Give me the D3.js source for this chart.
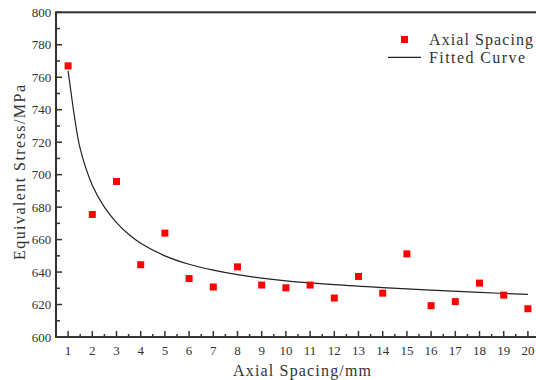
<!DOCTYPE html>
<html>
<head>
<meta charset="utf-8">
<script src="https://cdn.jsdelivr.net/npm/d3@7"></script>
<style>
    body { margin: 0; background: #fff; }
    .tick-label { font-family: "Liberation Serif", serif; font-size: 13px; fill: #333; }
    .annotation { font-family: "Liberation Serif", serif; font-size: 16px; fill: #333; }
</style>
</head>
<body>
<svg class="chart" width="536" height="380"></svg>
<script>
var spacing = [1, 2, 3, 4, 5, 6, 7, 8, 9, 10, 11, 12, 13, 14, 15, 16, 17, 18, 19, 20];
var stress = [767, 675.5, 695.8, 644.5, 664, 636, 630.8, 643.2, 632, 630.3, 632, 624, 637.3, 627, 651.2, 619.3, 621.8, 633.2, 625.8, 617.4];

var fitX = [1, 1.1, 1.25, 1.5, 2, 2.5, 3, 3.5, 4, 5, 6, 7, 8, 9, 10, 12, 14, 16, 18, 20];
var fitY = [764, 753, 737, 716, 693.5, 680, 670.5, 663.3, 657.8, 650, 644.8, 641.2, 638.4, 636.3, 634.6, 632.2, 630.4, 628.9, 627.5, 626.2];

var xTicks = [1, 2, 3, 4, 5, 6, 7, 8, 9, 10, 11, 12, 13, 14, 15, 16, 17, 18, 19, 20];
var yTicks = [600, 620, 640, 660, 680, 700, 720, 740, 760, 780, 800];

(function () {
    var svg = d3.select(".chart"),
        margin = {
            top: 12.3,
            right: -4,
            bottom: 43,
            left: 56
        },
        width = +svg.attr("width") - margin.left - margin.right,
        height = +svg.attr("height") - margin.top - margin.bottom,
        g = svg.append("g").attr("transform", "translate(" + margin.left + "," + margin.top + ")");

    var x = d3.scaleLinear()
        .range([0, width])
        .domain([0.5, 20.5]);

    var y = d3.scaleLinear()
        .range([height, 0])
        .domain([600, 800]);

    var axisColor = "#333";

    // minor ticks first, majors on top
    var xMinor = xTicks.slice(0, -1).map(function (d) { return d + 0.5; });
    var yMinor = yTicks.slice(0, -1).map(function (d) { return d + 10; });

    g.selectAll(".xminor")
        .data(xMinor)
        .enter()
        .append("line")
        .attr("x1", function (d) { return x(d); })
        .attr("x2", function (d) { return x(d); })
        .attr("y1", height)
        .attr("y2", height - 3)
        .attr("stroke", axisColor)
        .attr("stroke-width", 1.5);

    g.selectAll(".xmajor")
        .data(xTicks)
        .enter()
        .append("line")
        .attr("x1", function (d) { return x(d); })
        .attr("x2", function (d) { return x(d); })
        .attr("y1", height)
        .attr("y2", height - 6)
        .attr("stroke", axisColor)
        .attr("stroke-width", 1.5);

    g.selectAll(".yminor")
        .data(yMinor)
        .enter()
        .append("line")
        .attr("y1", function (d) { return y(d); })
        .attr("y2", function (d) { return y(d); })
        .attr("x1", 0)
        .attr("x2", 4)
        .attr("stroke", axisColor)
        .attr("stroke-width", 1.5);

    g.selectAll(".ymajor")
        .data(yTicks)
        .enter()
        .append("line")
        .attr("y1", function (d) { return y(d); })
        .attr("y2", function (d) { return y(d); })
        .attr("x1", 0)
        .attr("x2", 6)
        .attr("stroke", axisColor)
        .attr("stroke-width", 1.5);

    // frame
    g.append("rect")
        .attr("x", 0)
        .attr("y", 0)
        .attr("width", width)
        .attr("height", height)
        .attr("fill", "none")
        .attr("stroke", axisColor)
        .attr("stroke-width", 2);

    g.selectAll(".xlabel")
        .data(xTicks)
        .enter()
        .append("text")
        .attr("class", "tick-label")
        .attr("x", function (d) { return x(d); })
        .attr("y", height + 18)
        .attr("text-anchor", "middle")
        .text(function (d) { return d; });

    g.selectAll(".ylabel")
        .data(yTicks)
        .enter()
        .append("text")
        .attr("class", "tick-label")
        .attr("x", -6)
        .attr("y", function (d) { return y(d); })
        .attr("dy", "0.35em")
        .attr("dx", "0.1em")
        .attr("text-anchor", "end")
        .text(function (d) { return d; });

    svg.append("text")
        .attr("class", "annotation")
        .attr("x", 302)
        .attr("y", 376)
        .attr("text-anchor", "middle")
        .attr("textLength", 138)
        .attr("lengthAdjust", "spacing")
        .text("Axial Spacing/mm");

    svg.append("text")
        .attr("class", "annotation")
        .attr("transform", "translate(25,172.5) rotate(-90)")
        .attr("text-anchor", "middle")
        .attr("textLength", 175)
        .attr("lengthAdjust", "spacing")
        .text("Equivalent Stress/MPa");

    var line = d3.line()
        .x(function (d, i) { return x(fitX[i]); })
        .y(function (d) { return y(d); })
        .curve(d3.curveCatmullRom.alpha(0.5));

    g.append("path")
        .datum(fitY)
        .attr("fill", "none")
        .attr("stroke", "#222")
        .attr("stroke-width", 1.2)
        .attr("d", line);

    var s = 7;
    g.selectAll(".point")
        .data(stress)
        .enter()
        .append("rect")
        .attr("fill", "#ff0000")
        .attr("x", function (d, i) { return x(spacing[i]) - s / 2; })
        .attr("y", function (d) { return y(d) - s / 2; })
        .attr("width", s)
        .attr("height", s);

    // legend
    var lg = svg.append("g");
    lg.append("rect")
        .attr("x", 404.5 - s / 2)
        .attr("y", 39.5 - s / 2)
        .attr("width", s)
        .attr("height", s)
        .attr("fill", "#ff0000");
    lg.append("text")
        .attr("class", "annotation")
        .attr("x", 429)
        .attr("y", 45)
        .attr("textLength", 104)
        .attr("lengthAdjust", "spacing")
        .text("Axial Spacing");
    lg.append("line")
        .attr("x1", 388)
        .attr("x2", 421)
        .attr("y1", 57.3)
        .attr("y2", 57.3)
        .attr("stroke", "#222")
        .attr("stroke-width", 1.2);
    lg.append("text")
        .attr("class", "annotation")
        .attr("x", 429)
        .attr("y", 62.5)
        .attr("textLength", 96)
        .attr("lengthAdjust", "spacing")
        .text("Fitted Curve");
})();
</script>
</body>
</html>
